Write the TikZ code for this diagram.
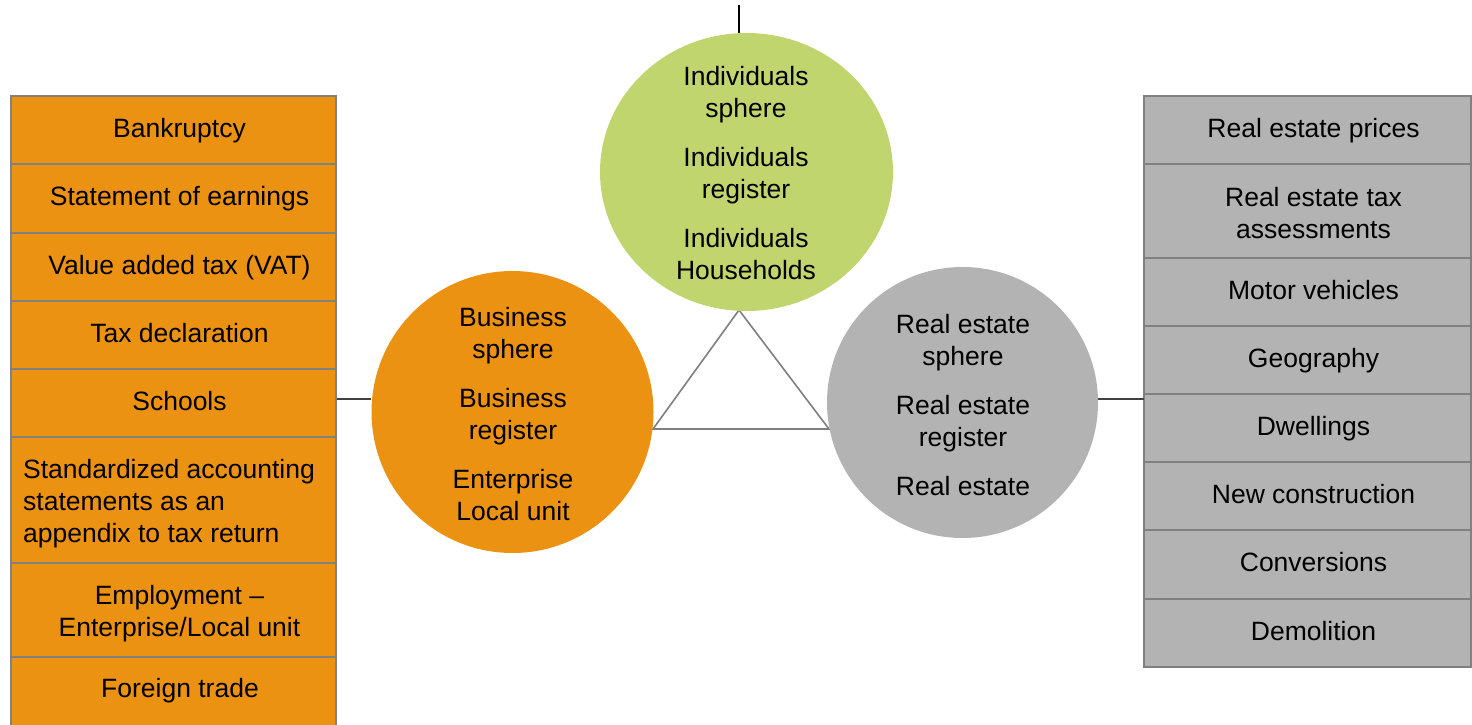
\documentclass[tikz,border=0pt]{standalone}
\usepackage{fontspec}
\setmainfont{Liberation Sans}
\usetikzlibrary{shapes.geometric}
\definecolor{orng}{HTML}{EC9212}
\definecolor{grn}{HTML}{C1D56F}
\definecolor{gry}{HTML}{B3B3B3}
\definecolor{bordergray}{HTML}{808080}
\definecolor{trigray}{HTML}{7F7F7F}
\begin{document}
\begin{tikzpicture}[x=1pt,y=-1pt,
  every node/.style={font=\fontsize{26.5}{32}\selectfont},
  rowbox/.style={draw=bordergray, line width=2.2pt, anchor=north west, inner sep=0pt, outer sep=0pt},
  orangerow/.style={rowbox, fill=orng, minimum width=325pt},
  grayrow/.style={rowbox, fill=gry, minimum width=327pt},
  lbl/.style={align=center, inner sep=0pt},
  sline/.style={lbl, text height=19pt, text depth=4.5pt},
  tri/.style={draw=trigray, line width=1.6pt},
  conn/.style={draw=black!75, line width=1.2pt},
  topline/.style={draw=black, line width=1.6pt}]
\useasboundingbox (0,0) rectangle (1472,724);

% left column
\node[orangerow, minimum height=68pt] (r1) at (11,96) {};
\node[orangerow, minimum height=69pt] (r2) at (11,164) {};
\node[orangerow, minimum height=68pt] (r3) at (11,233) {};
\node[orangerow, minimum height=68pt] (r4) at (11,301) {};
\node[orangerow, minimum height=68pt] (r5) at (11,369) {};
\node[orangerow, minimum height=126pt] (r6) at (11,437) {};
\node[orangerow, minimum height=94pt] (r7) at (11,563) {};
\node[orangerow, minimum height=80pt] (r8) at (11,657) {};
\node[sline] (t1) at ([xshift=6pt]r1.center) {Bankruptcy};
\node[sline] (t2) at ([xshift=6pt]r2.center) {Statement of earnings};
\node[sline] (t3) at ([xshift=6pt]r3.center) {Value added tax (VAT)};
\node[sline] (t4) at ([xshift=6pt]r4.center) {Tax declaration};
\node[sline] (t5) at ([xshift=6pt]r5.center) {Schools};
\node[lbl, align=left, anchor=west] (t6) at (23,503.5) {Standardized accounting\\statements as an\\appendix to tax return};
\node[lbl] (t7) at ([xshift=6pt,yshift=-3.5pt]r7.center) {Employment --\\Enterprise/Local unit};
\node[sline] (t8) at (180,690) {Foreign trade};

% right column
\node[grayrow, minimum height=68pt] (q1) at (1144,96) {};
\node[grayrow, minimum height=94pt] (q2) at (1144,164) {};
\node[grayrow, minimum height=68pt] (q3) at (1144,258) {};
\node[grayrow, minimum height=68pt] (q4) at (1144,326) {};
\node[grayrow, minimum height=68pt] (q5) at (1144,394) {};
\node[grayrow, minimum height=68pt] (q6) at (1144,462) {};
\node[grayrow, minimum height=69pt] (q7) at (1144,530) {};
\node[grayrow, minimum height=68pt] (q8) at (1144,599) {};
\node[sline] (s1) at ([xshift=6pt]q1.center) {Real estate prices};
\node[lbl] (s2) at ([xshift=6pt,yshift=-2pt]q2.center) {Real estate tax\\assessments};
\node[sline] (s3) at ([xshift=6pt]q3.center) {Motor vehicles};
\node[sline] (s4) at ([xshift=6pt]q4.center) {Geography};
\node[sline] (s5) at ([xshift=6pt]q5.center) {Dwellings};
\node[sline] (s6) at ([xshift=6pt]q6.center) {New construction};
\node[sline] (s7) at ([xshift=6pt]q7.center) {Conversions};
\node[sline] (s8) at ([xshift=6pt]q8.center) {Demolition};

% triangle
\coordinate (ta) at (739,310);
\coordinate (tb) at (653,429);
\coordinate (tc) at (829,429);
\draw[tri] (ta) -- (tb) -- (tc) -- cycle;

% circles
\node[ellipse, fill=grn, minimum width=293pt, minimum height=278pt, inner sep=0pt] (ind) at (746.5,172) {};
\node[circle, fill=orng, minimum size=282pt, inner sep=0pt] (bus) at (512.5,412) {};
\node[circle, fill=gry, minimum size=271pt, inner sep=0pt] (re) at (962.5,402.5) {};

\node[lbl] (indt) at (746,173) {Individuals\\sphere\\[17pt]Individuals\\register\\[17pt]Individuals\\Households};
\node[lbl] (bust) at (513,414) {Business\\sphere\\[17pt]Business\\register\\[17pt]Enterprise\\Local unit};
\node[lbl] (ret) at (963,405) {Real estate\\sphere\\[17pt]Real estate\\register\\[17pt]Real estate};

% connectors
\coordinate (top) at (739,5);
\draw[topline] (top) -- (top |- ind.north);
\coordinate (lc) at (337,399);
\draw[conn] (lc) -- (lc -| bus.west);
\coordinate (rc) at (1144,399);
\draw[conn] (rc -| re.east) -- (rc);
\end{tikzpicture}
\end{document}
